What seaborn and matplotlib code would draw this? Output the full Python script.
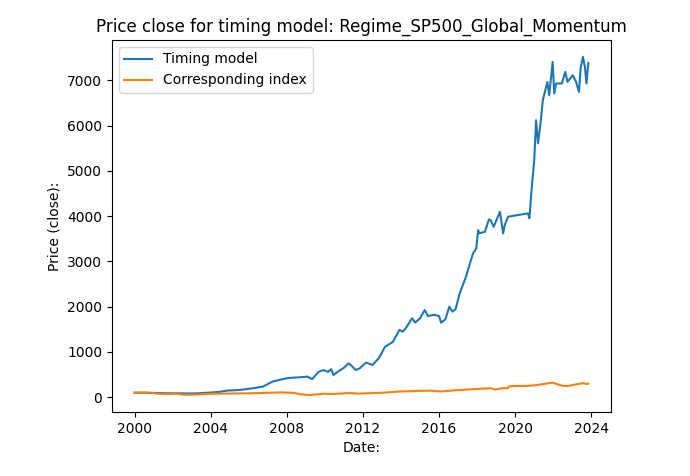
import matplotlib
matplotlib.use("Agg")
import matplotlib.pyplot as plt
import matplotlib.dates as mdates
import pandas as pd
import seaborn as sns

# Timing model
model_dates = [
    "2000-01-03", "2000-06-01", "2001-01-01", "2001-09-01", "2002-06-01", "2003-01-01",
    "2003-06-01", "2003-11-01", "2004-06-01", "2004-11-01", "2005-07-01", "2006-01-01",
    "2006-04-01", "2006-10-01", "2007-04-01", "2007-08-01", "2008-01-01", "2008-06-01",
    "2008-09-01", "2009-02-01", "2009-05-01", "2009-07-01", "2009-09-01", "2009-12-01",
    "2010-03-01", "2010-05-01", "2010-06-15", "2010-09-01", "2011-01-01", "2011-04-01",
    "2011-06-01", "2011-08-15", "2011-11-01", "2012-03-01", "2012-07-01", "2012-11-01",
    "2013-03-01", "2013-06-01", "2013-08-01", "2013-12-01", "2014-02-01", "2014-04-01",
    "2014-08-01", "2014-10-01", "2015-01-01", "2015-04-01", "2015-06-01", "2015-10-01",
    "2016-01-01", "2016-02-10", "2016-05-01", "2016-07-15", "2016-09-15", "2016-11-15",
    "2017-02-01", "2017-06-01", "2017-08-01", "2017-10-15", "2017-12-15", "2018-01-20",
    "2018-02-10", "2018-06-01", "2018-08-15", "2018-09-15", "2018-11-15", "2018-12-15",
    "2019-03-15", "2019-05-15", "2019-06-15", "2019-08-15", "2020-09-01", "2020-10-01",
    "2020-11-05", "2021-01-01", "2021-02-05", "2021-03-15", "2021-05-01", "2021-06-15",
    "2021-09-10", "2021-10-15", "2021-12-20", "2022-01-20", "2022-02-25", "2022-06-15",
    "2022-08-20", "2022-10-01", "2023-01-10", "2023-03-15", "2023-05-10", "2023-06-10",
    "2023-07-25", "2023-09-01", "2023-09-30", "2023-11-05",
]
model_values = [
    100, 98, 95, 88, 85, 82,
    88, 100, 115, 145, 160, 185,
    200, 235, 345, 380, 420, 435,
    440, 455, 400, 480, 560, 600,
    560, 620, 490, 560, 650, 750,
    690, 600, 640, 765, 713, 860,
    1117, 1180, 1228, 1486, 1450, 1523,
    1744, 1650, 1744, 1927, 1795, 1820,
    1795, 1647, 1720, 2000, 1890, 1950,
    2296, 2662, 2900, 3179, 3290, 3693,
    3620, 3656, 3929, 3914, 3766, 3850,
    4097, 3620, 3800, 3987, 4062, 3951,
    4503, 5238, 6121, 5607, 6049, 6563,
    6967, 6673, 7408, 6711, 6932, 6932,
    7188, 6967, 7115, 6967, 6746, 7262,
    7519, 7298, 6932, 7386,
]

# Corresponding index
index_dates = [
    "2000-01-03", "2000-09-01", "2001-03-01", "2001-09-01", "2002-03-01", "2002-07-01",
    "2002-10-01", "2003-03-01", "2003-12-01", "2004-12-01", "2005-12-01", "2006-12-01",
    "2007-10-01", "2008-05-01", "2008-11-01", "2009-03-01", "2009-12-01", "2010-07-01",
    "2011-04-01", "2011-10-01", "2012-12-01", "2013-12-01", "2014-12-01", "2015-08-01",
    "2016-02-01", "2016-12-01", "2017-12-01", "2018-09-15", "2018-12-20", "2019-04-15",
    "2019-08-15", "2019-09-15", "2020-09-01", "2021-03-01", "2021-12-20", "2022-06-15",
    "2022-10-01", "2023-02-01", "2023-07-25", "2023-10-15", "2023-11-05",
]
index_values = [
    100, 103, 80, 72, 78, 60,
    55, 57, 75, 82, 85, 96,
    106, 95, 60, 47, 75, 72,
    92, 80, 97, 125, 140, 145,
    127, 155, 182, 198, 170, 198,
    200, 245, 250, 270, 322, 255,
    245, 275, 310, 290, 300,
]

model_df = pd.DataFrame({"Date": pd.to_datetime(model_dates), "Price": model_values})
index_df = pd.DataFrame({"Date": pd.to_datetime(index_dates), "Price": index_values})

fig = plt.figure(figsize=(6.9, 4.76), dpi=100)
ax = fig.add_axes([112 / 690, 1 - 412 / 476, (611 - 112) / 690, (412 - 40) / 476])

sns.lineplot(data=model_df, x="Date", y="Price", ax=ax, color="#1f77b4",
             label="Timing model", linewidth=1.5)
sns.lineplot(data=index_df, x="Date", y="Price", ax=ax, color="#ff7f0e",
             label="Corresponding index", linewidth=1.5)

ax.xaxis.set_major_locator(mdates.YearLocator(4))
ax.xaxis.set_major_formatter(mdates.DateFormatter("%Y"))
ax.set_title("Price close for timing model: Regime_SP500_Global_Momentum")
ax.set_xlabel("Date:")
ax.set_ylabel("Price (close):")
ax.legend(loc="upper left")

fig.savefig("out.png", dpi=100)
